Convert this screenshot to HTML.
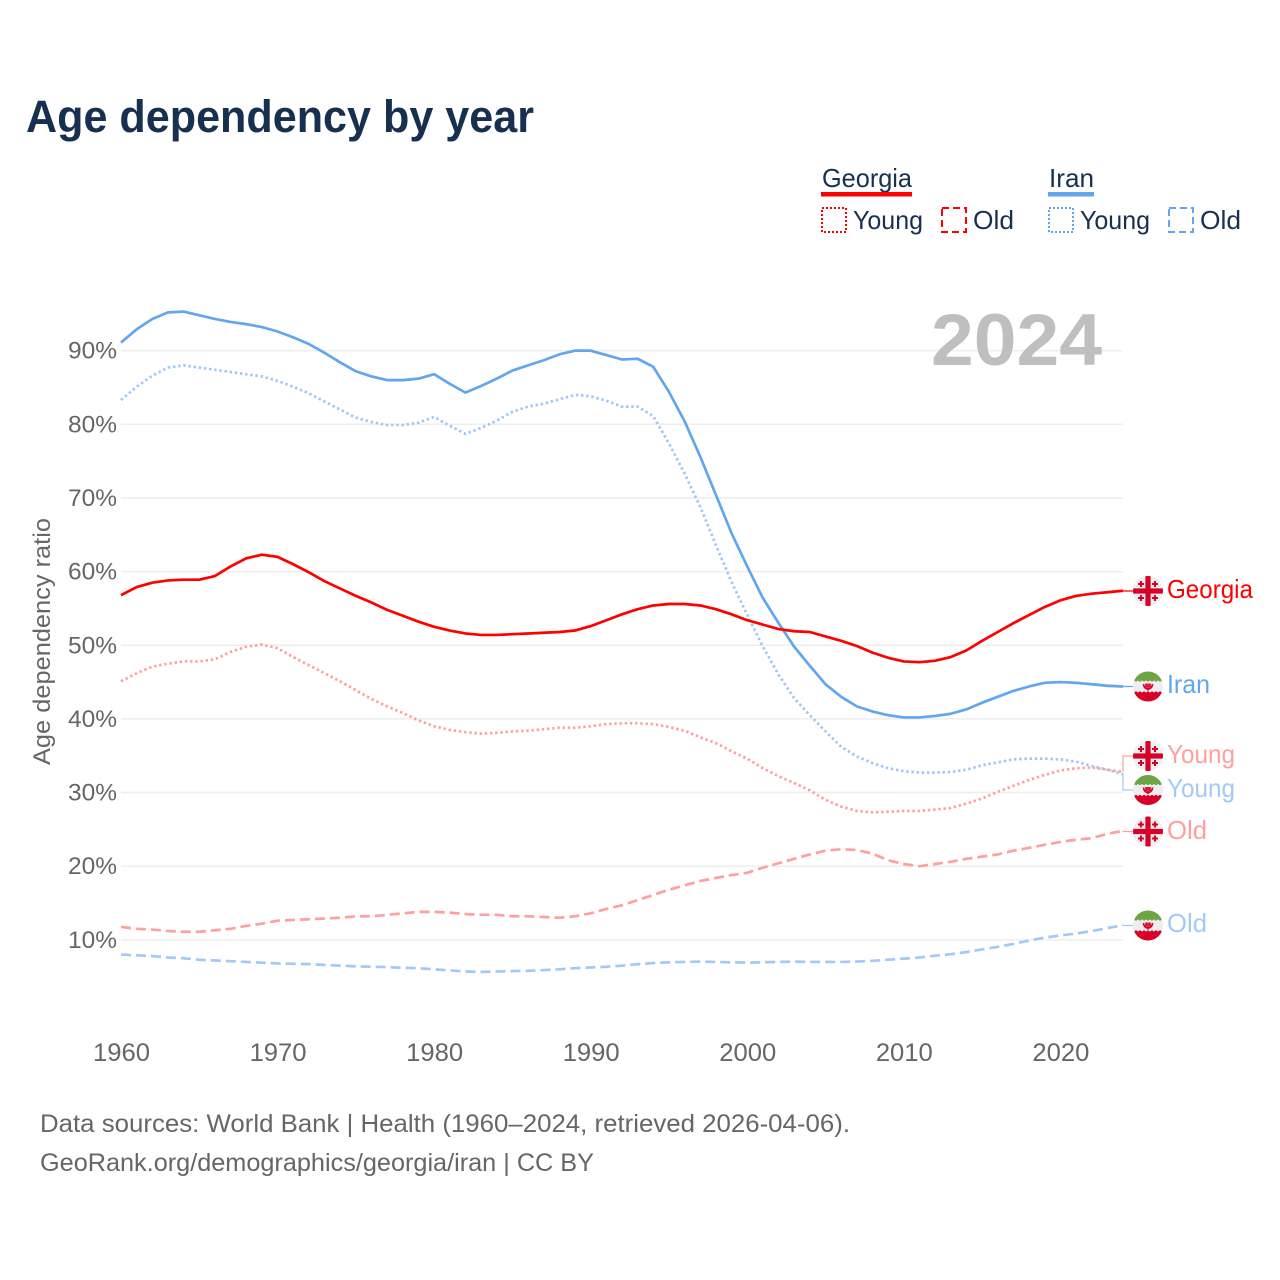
<!DOCTYPE html>
<html lang="en">
<head>
<meta charset="utf-8">
<title>Age dependency by year</title>
<style>
html,body{margin:0;padding:0;background:#fff;width:1280px;height:1280px;overflow:hidden}
svg{display:block}
text{font-family:"Liberation Sans",sans-serif}
</style>
</head>
<body>
<svg id="chart" xmlns="http://www.w3.org/2000/svg" width="1280" height="1280" viewBox="0 0 1280 1280">
  <rect width="1280" height="1280" fill="#fff"/>
  <text x="26" y="132" font-size="45" font-weight="700" fill="#18304f" textLength="508" lengthAdjust="spacingAndGlyphs">Age dependency by year</text>

  <g font-size="26" fill="#18304f">
    <g>
      <text x="822" y="187" textLength="90" lengthAdjust="spacingAndGlyphs">Georgia</text>
      <rect x="821" y="192" width="91" height="4.5" fill="#ff0000"/>
    </g>
    <g>
      <rect x="822" y="208" width="24" height="24" fill="none" stroke="#ff0000" stroke-width="2" stroke-dasharray="2 2"/>
      <text x="853" y="229" textLength="70" lengthAdjust="spacingAndGlyphs">Young</text>
    </g>
    <g>
      <rect x="942" y="208" width="24" height="24" fill="none" stroke="#ff0000" stroke-width="2" stroke-dasharray="7 4"/>
      <text x="973" y="229" textLength="41" lengthAdjust="spacingAndGlyphs">Old</text>
    </g>
    <g>
      <text x="1049" y="187" textLength="45" lengthAdjust="spacingAndGlyphs">Iran</text>
      <rect x="1048" y="192" width="46" height="4.5" fill="#62a6ee"/>
    </g>
    <g>
      <rect x="1049" y="208" width="24" height="24" fill="none" stroke="#62a6ee" stroke-width="2" stroke-dasharray="2 2"/>
      <text x="1080" y="229" textLength="70" lengthAdjust="spacingAndGlyphs">Young</text>
    </g>
    <g>
      <rect x="1169" y="208" width="24" height="24" fill="none" stroke="#62a6ee" stroke-width="2" stroke-dasharray="7 4"/>
      <text x="1200" y="229" textLength="41" lengthAdjust="spacingAndGlyphs">Old</text>
    </g>
  </g>

  <g id="grid"></g>
  <text x="931" y="365" font-size="73" font-weight="700" fill="#bfbfbf" textLength="171" lengthAdjust="spacingAndGlyphs">2024</text>
  <g id="yticks"></g>
  <g id="xticks"></g>
  <text transform="translate(50,765) rotate(-90)" x="0" y="0" font-size="24" fill="#666" textLength="247" lengthAdjust="spacingAndGlyphs">Age dependency ratio</text>

  <g id="series"></g>
  <g id="leaders"></g>

  <defs>
    <clipPath id="flag-clip"><circle cx="0" cy="0" r="15"/></clipPath>
    <g id="flag-georgia">
      <circle r="15" fill="#eeeeee"/>
      <g clip-path="url(#flag-clip)" fill="#d80027">
        <rect x="-2.6" y="-15" width="5.2" height="30"/>
        <rect x="-15" y="-2.6" width="30" height="5.2"/>
        <path d="M-8 -10h2v2h2v2h-2v2h-2v-2h-2v-2h2z"/>
        <path d="M6 -10h2v2h2v2h-2v2h-2v-2h-2v-2h2z"/>
        <path d="M-8 4h2v2h2v2h-2v2h-2v-2h-2v-2h2z"/>
        <path d="M6 4h2v2h2v2h-2v2h-2v-2h-2v-2h2z"/>
      </g>
    </g>
    <g id="flag-iran">
      <circle r="15" fill="#eeeeee"/>
      <g clip-path="url(#flag-clip)">
        <rect x="-15" y="-15" width="30" height="10" fill="#6da544"/>
        <rect x="-15" y="5" width="30" height="10" fill="#d80027"/>
        <line x1="-15" x2="15" y1="-5" y2="-5" stroke="#eeeeee" stroke-width="1.6" stroke-dasharray="2 2"/>
        <line x1="-15" x2="15" y1="5" y2="5" stroke="#eeeeee" stroke-width="1.6" stroke-dasharray="2 2"/>
        <path d="M-4.5 -2.5a4.5 5 0 0 0 9 0M0 -3v7M-1.9 -3v4M1.9 -3v4" fill="none" stroke="#d80027" stroke-width="1.7"/>
      </g>
    </g>
  </defs>

  <g>
    <use href="#flag-georgia" x="1148" y="591"/>
    <text x="1167" y="598" font-size="26" fill="#ff0000" textLength="86" lengthAdjust="spacingAndGlyphs">Georgia</text>
  </g>
  <g>
    <use href="#flag-iran" x="1148" y="686.5"/>
    <text x="1167" y="693" font-size="26" fill="#62a6ee" textLength="43" lengthAdjust="spacingAndGlyphs">Iran</text>
  </g>
  <g>
    <use href="#flag-georgia" x="1148" y="756"/>
    <text x="1167" y="763" font-size="26" fill="#ffa0a0" textLength="68" lengthAdjust="spacingAndGlyphs">Young</text>
  </g>
  <g>
    <use href="#flag-iran" x="1148" y="790"/>
    <text x="1167" y="797" font-size="26" fill="#a4c9f4" textLength="68" lengthAdjust="spacingAndGlyphs">Young</text>
  </g>
  <g>
    <use href="#flag-georgia" x="1148" y="831.5"/>
    <text x="1167" y="839" font-size="26" fill="#ffa0a0" textLength="40" lengthAdjust="spacingAndGlyphs">Old</text>
  </g>
  <g>
    <use href="#flag-iran" x="1148" y="925.5"/>
    <text x="1167" y="932" font-size="26" fill="#a4c9f4" textLength="40" lengthAdjust="spacingAndGlyphs">Old</text>
  </g>

  <text x="40" y="1132" font-size="25" fill="#666" textLength="810" lengthAdjust="spacingAndGlyphs">Data sources: World Bank | Health (1960–2024, retrieved 2026-04-06).</text>
  <text x="40" y="1171" font-size="25" fill="#666" textLength="554" lengthAdjust="spacingAndGlyphs">GeoRank.org/demographics/georgia/iran | CC BY</text>
</svg>

<script>
const startYear = 1960;
const yTickValues = [10, 20, 30, 40, 50, 60, 70, 80, 90];
const xTickValues = [1960, 1970, 1980, 1990, 2000, 2010, 2020];
const iranTotal = [91.1,92.9,94.3,95.2,95.3,94.8,94.3,93.9,93.6,93.2,92.6,91.8,90.9,89.7,88.4,87.2,86.5,86.0,86.0,86.2,86.8,85.5,84.3,85.2,86.2,87.3,88.0,88.7,89.5,90.0,90.0,89.4,88.8,88.9,87.8,84.4,80.4,75.6,70.4,65.2,60.7,56.4,53.0,49.8,47.2,44.7,43.0,41.7,41.0,40.5,40.2,40.2,40.4,40.7,41.3,42.2,43.0,43.8,44.4,44.9,45.0,44.9,44.7,44.5,44.4];
const iranYoung = [83.3,85.1,86.6,87.7,88.0,87.7,87.4,87.1,86.8,86.5,85.9,85.1,84.2,83.1,82.0,80.9,80.3,79.9,79.9,80.2,81.0,79.8,78.7,79.5,80.5,81.7,82.4,82.8,83.4,84.0,83.8,83.2,82.4,82.4,81.1,77.4,73.3,68.8,63.6,58.6,54.1,49.8,46.0,42.8,40.5,38.3,36.2,34.9,34.0,33.3,32.9,32.7,32.7,32.8,33.1,33.7,34.1,34.5,34.6,34.6,34.5,34.2,33.6,33.1,32.5];
const iranOld = [8.0,7.9,7.8,7.6,7.5,7.3,7.2,7.1,7.0,6.9,6.8,6.75,6.7,6.6,6.5,6.4,6.35,6.3,6.2,6.15,6.0,5.85,5.7,5.65,5.7,5.75,5.8,5.9,6.0,6.15,6.25,6.35,6.5,6.7,6.85,6.95,7.0,7.05,7.0,6.95,6.9,6.95,7.0,7.05,7.0,7.0,7.0,7.05,7.15,7.3,7.45,7.6,7.85,8.05,8.35,8.7,9.05,9.45,9.9,10.3,10.6,10.85,11.2,11.6,12.0];
const georgiaTotal = [56.8,57.9,58.5,58.8,58.9,58.9,59.4,60.7,61.8,62.3,62.0,61.0,59.9,58.7,57.7,56.7,55.8,54.8,54.0,53.2,52.5,52.0,51.6,51.4,51.4,51.5,51.6,51.7,51.8,52.0,52.6,53.4,54.2,54.9,55.4,55.6,55.6,55.4,54.9,54.2,53.4,52.8,52.2,51.9,51.8,51.2,50.6,49.9,49.0,48.3,47.8,47.7,47.9,48.4,49.3,50.6,51.8,53.0,54.1,55.2,56.1,56.7,57.0,57.2,57.4];
const georgiaYoung = [45.1,46.2,47.1,47.5,47.8,47.8,48.1,49.1,49.8,50.1,49.6,48.4,47.3,46.2,45.1,43.9,42.7,41.7,40.8,39.8,39.0,38.5,38.2,38.0,38.1,38.3,38.4,38.6,38.8,38.8,39.0,39.3,39.4,39.4,39.3,38.9,38.4,37.5,36.7,35.6,34.6,33.3,32.2,31.3,30.3,29.0,28.1,27.5,27.3,27.4,27.5,27.5,27.7,27.9,28.5,29.2,30.1,30.9,31.7,32.4,33.0,33.3,33.4,33.1,32.8];
const georgiaOld = [11.75,11.5,11.4,11.2,11.1,11.1,11.3,11.5,11.9,12.2,12.6,12.7,12.8,12.9,13.0,13.2,13.2,13.4,13.6,13.8,13.8,13.7,13.5,13.4,13.4,13.2,13.2,13.1,13.0,13.2,13.6,14.2,14.7,15.4,16.1,16.8,17.4,18.0,18.4,18.8,19.1,19.8,20.4,21.0,21.6,22.1,22.3,22.2,21.7,20.8,20.3,20.0,20.3,20.6,21.0,21.3,21.6,22.1,22.5,22.9,23.3,23.6,23.8,24.4,24.8];

const NS = 'http://www.w3.org/2000/svg';
const plotLeft = 121, plotRight = 1123;
function xScale(year) { return plotLeft + (year - startYear) * (plotRight - plotLeft) / 64; }
function yScale(v) { return 1013.5 - v * 7.365; }
function linePath(values) {
  return values.map(function (v, i) {
    return (i ? 'L' : 'M') + xScale(startYear + i).toFixed(2) + ' ' + yScale(v).toFixed(2);
  }).join('');
}

const grid = document.getElementById('grid');
const yticks = document.getElementById('yticks');
yTickValues.forEach(function (v) {
  const line = document.createElementNS(NS, 'line');
  
  
  line.setAttribute('x1', plotLeft);
  line.setAttribute('x2', plotRight);
  line.setAttribute('y1', yScale(v));
  line.setAttribute('y2', yScale(v));
  line.setAttribute('stroke', '#eeeeee');
  line.setAttribute('stroke-width', '1.5');
  grid.appendChild(line);
  const t = document.createElementNS(NS, 'text');
  
  
  t.setAttribute('x', 68);
  t.setAttribute('y', yScale(v) + 8);
  t.setAttribute('font-size', '24');
  t.setAttribute('fill', '#666');
  t.setAttribute('textLength', '49');
  t.setAttribute('lengthAdjust', 'spacingAndGlyphs');
  t.textContent = v + '%';
  yticks.appendChild(t);
});

const xticks = document.getElementById('xticks');
xTickValues.forEach(function (yr) {
  const t = document.createElementNS(NS, 'text');
  
  
  t.setAttribute('x', xScale(yr) - 28);
  t.setAttribute('y', 1061);
  t.setAttribute('font-size', '25');
  t.setAttribute('fill', '#666');
  t.setAttribute('textLength', '57');
  t.setAttribute('lengthAdjust', 'spacingAndGlyphs');
  t.textContent = yr;
  xticks.appendChild(t);
});

const seriesGroup = document.getElementById('series');
function addSeries(name, values, color, dash) {
  const p = document.createElementNS(NS, 'path');
  
  
  p.setAttribute('d', linePath(values));
  p.setAttribute('fill', 'none');
  p.setAttribute('stroke', color);
  p.setAttribute('stroke-width', '2.7');
  p.setAttribute('stroke-linejoin', 'round');
  if (dash) p.setAttribute('stroke-dasharray', dash);
  seriesGroup.appendChild(p);
}
addSeries('iran-old-line', iranOld, '#a4c9f4', '10 5');
addSeries('georgia-old-line', georgiaOld, '#ffa0a0', '10 5');
addSeries('iran-young-line', iranYoung, '#a0c6f3', '2.4 2.8');
addSeries('georgia-young-line', georgiaYoung, '#ffa0a0', '2.4 2.8');
addSeries('iran-total-line', iranTotal, '#62a6ee', null);
addSeries('georgia-total-line', georgiaTotal, '#ff0000', null);

const leaders = document.getElementById('leaders');
function addLeader(name, values, flagY, color) {
  const yEnd = yScale(values[values.length - 1]);
  const p = document.createElementNS(NS, 'path');
  
  
  p.setAttribute('d', 'M' + plotRight + ' ' + yEnd.toFixed(2) + 'L' + plotRight + ' ' + flagY + 'L1134 ' + flagY);
  p.setAttribute('fill', 'none');
  p.setAttribute('stroke', color);
  p.setAttribute('stroke-width', '1.2');
  leaders.appendChild(p);
}
addLeader('georgia-total-leader', georgiaTotal, 591, '#ff0000');
addLeader('iran-total-leader', iranTotal, 686.5, '#62a6ee');
addLeader('georgia-young-leader', georgiaYoung, 756, '#ffa0a0');
addLeader('iran-young-leader', iranYoung, 790, '#a4c9f4');
addLeader('georgia-old-leader', georgiaOld, 831.5, '#ffa0a0');
addLeader('iran-old-leader', iranOld, 925.5, '#a4c9f4');
</script>
</body>
</html>
